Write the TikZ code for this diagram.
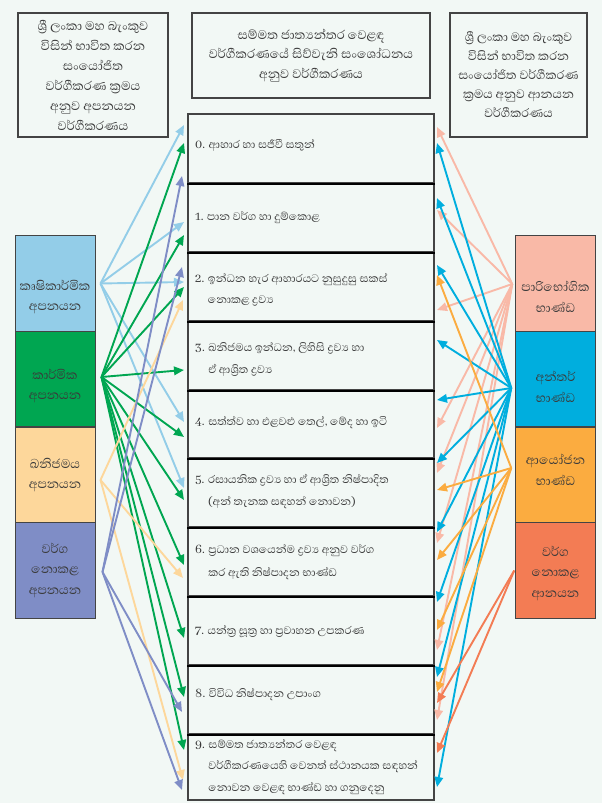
\documentclass[tikz,border=0pt]{standalone}
\usepackage{fontspec}
\newfontfamily\snf[Script=Sinhala]{Abhaya Libre}
\usetikzlibrary{arrows.meta,calc}
\def\zj{^^^^200d}
\definecolor{bg}{HTML}{F2F8F5}
\definecolor{txt}{HTML}{3A3A3A}
\definecolor{bordc}{HTML}{444444}
\definecolor{kA}{HTML}{93CDE8}
\definecolor{kB}{HTML}{00A651}
\definecolor{kC}{HTML}{FDD79B}
\definecolor{kD}{HTML}{7F8DC6}
\definecolor{pA}{HTML}{F9B9A7}
\definecolor{pB}{HTML}{00AEDE}
\definecolor{pC}{HTML}{FBAC40}
\definecolor{pD}{HTML}{F37C54}
\begin{document}
\begin{tikzpicture}[x=1pt,y=-1pt,
  every node/.style={font=\snf\fontsize{14}{20}\selectfont, text=txt},
  titlebox/.style={draw=bordc, line width=1.1pt, fill=bg, align=center, inner sep=0pt},
  catbox/.style={draw=bordc, line width=1pt, minimum width=80pt, minimum height=95.5pt, inner sep=0pt},
  cattext/.style={align=center, inner sep=0pt, font=\snf\fontsize{16}{20.5}\selectfont},
  rowbox/.style={draw=bordc, line width=1.2pt, minimum width=246pt, inner sep=0pt},
  rowtext/.style={anchor=west, align=left, inner sep=0pt},
  sepline/.style={line width=2pt, black},
  arr/.style={line width=1.9pt, -{Triangle[length=10pt,width=8.5pt]}}
]
\useasboundingbox[fill=bg] (0,0) rectangle (602,803);

% title boxes
\node[titlebox, minimum width=150pt, minimum height=124pt, font=\snf\fontsize{16}{20}\selectfont] (tl) at (93,75)
 {ශ්\zj රී ලංකා මහ බැංකුව\\විසින් භාවිත කරන\\සංයෝජිත\\වර්ගීකරණ ක්\zj රමය\\අනුව අපනයන\\වර්ගීකරණය};
\node[titlebox, minimum width=238pt, minimum height=85pt, font=\snf\fontsize{16}{19.5}\selectfont] (tc) at (311,55.5)
 {සම්මත ජාත්\zj යන්තර වෙළඳ\\වර්ගීකරණයේ සිව්වැනි සංශෝධනය\\අනුව වර්ගීකරණය};
\node[titlebox, minimum width=137pt, minimum height=124pt, font=\snf\fontsize{15.5}{19}\selectfont] (tr) at (518.5,75)
 {ශ්\zj රී ලංකා මහ බැංකුව\\විසින් භාවිත කරන\\සංයෝජිත වර්ගීකරණ\\ක්\zj රමය අනුව ආනයන\\වර්ගීකරණය};

% centre rows
\node[rowbox, minimum height=69pt] (r0) at (311,148.5) {};
\node[rowbox, minimum height=69pt] (r1) at (311,217.5) {};
\node[rowbox, minimum height=69pt] (r2) at (311,286.5) {};
\node[rowbox, minimum height=69pt] (r3) at (311,355.5) {};
\node[rowbox, minimum height=68pt] (r4) at (311,424) {};
\node[rowbox, minimum height=69pt] (r5) at (311,492.5) {};
\node[rowbox, minimum height=69pt] (r6) at (311,561.5) {};
\node[rowbox, minimum height=69pt] (r7) at (311,630.5) {};
\node[rowbox, minimum height=69pt] (r8) at (311,699.5) {};
\node[rowbox, minimum height=66pt] (r9) at (311,767) {};
\foreach \a in {0,...,8} {\draw[sepline] (r\a.south west) -- (r\a.south east);}

\node[rowtext] (x0) at (195,145) {0. ආහාර හා සජීවී සතුන්};
\node[rowtext] (x1) at (195,218) {1. පාන වර්ග හා දුම්කොළ};
\node[rowtext, font=\snf\fontsize{14}{21}\selectfont] (x2) at (195,290) {2. ඉන්ධන හැර ආහාරයට නුසුදුසු සකස්\\\phantom{2. }නොකළ ද්\zj රව්\zj ය};
\node[rowtext, font=\snf\fontsize{14}{22}\selectfont] (x3) at (195,359) {3. ඛනිජමය ඉන්ධන, ලිහිසි ද්\zj රව්\zj ය හා\\\phantom{3. }ඒ ආශ්\zj රිත ද්\zj රව්\zj ය};
\node[rowtext] (x4) at (195,423) {4. සත්ත්ව හා එළවළු තෙල්, මේද හා ඉටි};
\node[rowtext, font=\snf\fontsize{14}{22.5}\selectfont] (x5) at (195,491.5) {5. රසායනික ද්\zj රව්\zj ය හා ඒ ආශ්\zj රිත නිෂ්පාදිත\\\phantom{5. }(අන් තැනක සඳහන් නොවන)};
\node[rowtext, font=\snf\fontsize{14}{22.5}\selectfont] (x6) at (195,562) {6. ප්\zj රධාන වශයෙන්ම ද්\zj රව්\zj ය අනුව වර්ග\\\phantom{6. }කර ඇති නිෂ්පාදන භාණ්ඩ};
\node[rowtext] (x7) at (195,632) {7. යන්ත්\zj ර සූත්\zj ර හා ප්\zj රවාහන උපකරණ};
\node[rowtext] (x8) at (195,695) {8. විවිධ නිෂ්පාදන උපාංග};
\node[rowtext, font=\snf\fontsize{14}{21.5}\selectfont] (x9) at (195,767) {9. සම්මත ජාත්\zj යන්තර වෙළඳ\\\phantom{9. }වර්ගීකරණයෙහි වෙනත් ස්ථානයක සඳහන්\\\phantom{9. }නොවන වෙළඳ භාණ්ඩ හා ගනුදෙනු};

% left category boxes
\node[catbox, fill=kA] (k1) at (55,283.5) {};
\node[catbox, fill=kB] (k2) at (55,379) {};
\node[catbox, fill=kC] (k3) at (55,475) {};
\node[catbox, fill=kD] (k4) at (55,570.5) {};
\node[cattext] (k1t) at (55,297) {කෘෂිකාර්මික\\අපනයන};
\node[cattext] (k2t) at (55,386) {කාර්මික\\අපනයන};
\node[cattext] (k3t) at (55,475) {ඛනිජමය\\අපනයන};
\node[cattext] (k4t) at (55,570) {වර්ග\\නොකළ\\අපනයන};

% right category boxes
\node[catbox, fill=pA, minimum width=79.5pt] (p1) at (555.5,283.5) {};
\node[catbox, fill=pB, minimum width=79.5pt] (p2) at (555.5,379) {};
\node[catbox, fill=pC, minimum width=79.5pt] (p3) at (555.5,475) {};
\node[catbox, fill=pD, minimum width=79.5pt] (p4) at (555.5,570.5) {};
\node[cattext] (p1t) at (555.5,297) {පාරිභෝගික\\භාණ්ඩ};
\node[cattext] (p2t) at (555.5,387) {අන්තර්\\භාණ්ඩ};
\node[cattext] (p3t) at (555.5,470) {ආයෝජන\\භාණ්ඩ};
\node[cattext] (p4t) at (555.5,573) {වර්ග\\නොකළ\\ආනයන};

% origins
\coordinate (oA) at ([shift={(5,0)}]k1.east);
\coordinate (oB) at ([shift={(6,-2)}]k2.east);
\coordinate (oC) at ([shift={(5,5)}]k3.east);
\coordinate (oD) at ([shift={(7,1.5)}]k4.east);
\coordinate (qA) at ([shift={(-3,0.5)}]p1.west);
\coordinate (qB) at ([shift={(-4,9)}]p2.west);
\coordinate (qC) at ([shift={(-4,-7)}]p3.west);
\coordinate (qD) at ([shift={(-1,0)}]p4.west);

% left arrows
\foreach \y [count=\i] in {125,222,282,422,488} {
  \coordinate (LA\i) at (184,\y); \draw[arr, kA] (oA) -- (LA\i);}
\foreach \y [count=\i] in {143,235,287,370,437,500,565,638,697,750} {
  \coordinate (LB\i) at (184,\y); \draw[arr, kB] (oB) -- (LB\i);}
\foreach \y [count=\i] in {300,578,780} {
  \coordinate (LC\i) at (183,\y); \draw[arr, kC] (oC) -- (LC\i);}
\foreach \y [count=\i] in {176,267,712,790} {
  \coordinate (LD\i) at (182,\y); \draw[arr, kD] (oD) -- (LD\i);}

% right arrows
\foreach \y [count=\i] in {127,210,310,428,473,543,650,720} {
  \coordinate (RA\i) at (437,\y); \draw[arr, pA] (qA) -- (RA\i);}
\foreach \y [count=\i] in {143,198,265,340,400,463,532,602,677,787} {
  \coordinate (RB\i) at (437,\y); \draw[arr, pB] (qB) -- (RB\i);}
\foreach \y [count=\i] in {275,490,560,630,692} {
  \coordinate (RC\i) at (437,\y); \draw[arr, pC] (qC) -- (RC\i);}
\foreach \y [count=\i] in {703,753} {
  \coordinate (RD\i) at (437,\y); \draw[arr, pD] (qD) -- (RD\i);}
\end{tikzpicture}
\end{document}
